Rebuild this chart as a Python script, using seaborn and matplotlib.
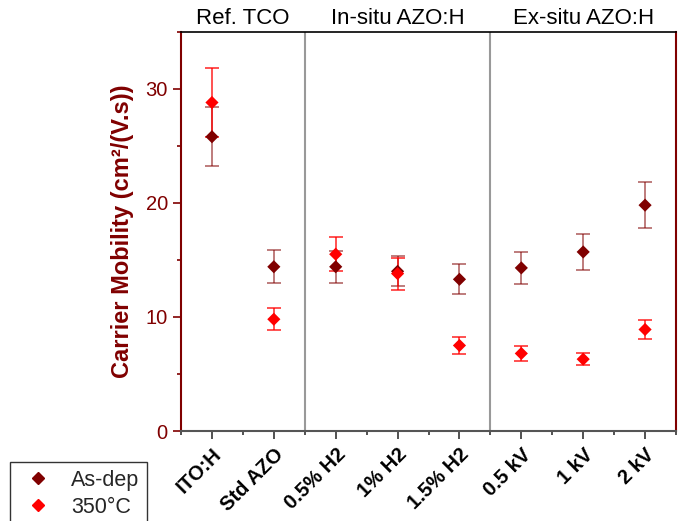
import matplotlib
matplotlib.use("Agg")
import matplotlib.pyplot as plt
import seaborn as sns
import pandas as pd
import numpy as np
from matplotlib.ticker import MultipleLocator, FixedLocator
from matplotlib.lines import Line2D

categories = ["ITO:H", "Std AZO", "0.5% H2", "1% H2", "1.5% H2", "0.5 kV", "1 kV", "2 kV"]
asdep = [25.8, 14.4, 14.4, 14.0, 13.3, 14.3, 15.7, 19.8]
asdep_err = [2.6, 1.45, 1.4, 1.3, 1.3, 1.4, 1.6, 2.0]
ann = [28.8, 9.8, 15.5, 13.8, 7.5, 6.8, 6.3, 8.9]
ann_err = [3.0, 0.95, 1.5, 1.4, 0.75, 0.65, 0.55, 0.8]
groups = ["Ref. TCO", "In-situ AZO:H", "Ex-situ AZO:H"]
group_centers = [0.5, 3.0, 6.0]
separators = [1.5, 4.5]

DARK = "#800000"
RED = "#ff0000"

sns.set_theme(style="white")
plt.rcParams['font.family'] = ['Liberation Sans', 'DejaVu Sans']

x = np.arange(len(categories))
df = pd.DataFrame({
    "x": np.concatenate([x, x]),
    "y": asdep + ann,
    "series": ["As-dep"] * len(x) + ["350°C"] * len(x),
})

fig = plt.figure(figsize=(6.87, 5.21), dpi=100)
ax = fig.add_axes([0.2635, 0.1727, 0.7205, 0.7663])

for sx in separators:
    ax.axvline(sx, color="#999999", lw=1.5, zorder=1)

ax.errorbar(x, asdep, yerr=asdep_err, fmt="none", ecolor=DARK, alpha=0.6,
            elinewidth=1.2, capsize=5, capthick=1.2, zorder=2)
ax.errorbar(x, ann, yerr=ann_err, fmt="none", ecolor=RED, alpha=0.8,
            elinewidth=1.2, capsize=5, capthick=1.2, zorder=2)

sns.scatterplot(data=df, x="x", y="y", hue="series", palette={"As-dep": DARK, "350°C": RED},
                marker="D", s=45, edgecolor="none", ax=ax, zorder=3, legend=False)

ax.set_xlim(-0.5, 7.5)
ax.set_ylim(0, 35)
ax.xaxis.set_major_locator(FixedLocator(x))
ax.xaxis.set_minor_locator(FixedLocator(np.arange(-0.5, 8.0, 1.0)))
ax.set_xticklabels(categories, rotation=45, ha="right", rotation_mode="anchor",
                   fontweight="bold", fontsize=14.5, color="black")
ax.yaxis.set_major_locator(MultipleLocator(10))
ax.yaxis.set_minor_locator(MultipleLocator(5))
ax.tick_params(axis="y", which="both", direction="out", left=True, colors=DARK, labelsize=14.5)
ax.tick_params(axis="y", which="major", length=6, width=1.2)
ax.tick_params(axis="y", which="minor", length=3, width=1.2)
ax.tick_params(axis="x", which="both", direction="out", bottom=True, color="#333333", width=1.2)
ax.tick_params(axis="x", which="major", length=6, pad=4)
ax.tick_params(axis="x", which="minor", length=3)

ax.set_xlabel("")
ax.set_ylabel("Carrier Mobility (cm²/(V.s))", fontsize=17, fontweight="bold", color=DARK, labelpad=8)

for side in ["left", "right"]:
    ax.spines[side].set_color(DARK)
    ax.spines[side].set_linewidth(1.5)
ax.spines["top"].set_color("black")
ax.spines["top"].set_linewidth(1.2)
ax.spines["bottom"].set_color("#555555")
ax.spines["bottom"].set_linewidth(1.5)

for g, c in zip(groups, group_centers):
    ax.text(c, 1.006, g, transform=ax.get_xaxis_transform(), ha="center", va="bottom",
            fontsize=16, color="black")

handles = [Line2D([], [], marker="D", ls="none", color=DARK, markersize=6),
           Line2D([], [], marker="D", ls="none", color=RED, markersize=6)]
leg = fig.legend(handles, ["As-dep", "350°C"], loc="upper left",
                 bbox_to_anchor=(10 / 687, 1 - 462 / 521), fontsize=15.5, frameon=True,
                 fancybox=False, edgecolor="black", borderpad=0.35, labelspacing=0.3,
                 handlelength=1.9, handletextpad=0.6, borderaxespad=0)
leg.get_frame().set_linewidth(1.0)

fig.savefig("out.png", dpi=100)
